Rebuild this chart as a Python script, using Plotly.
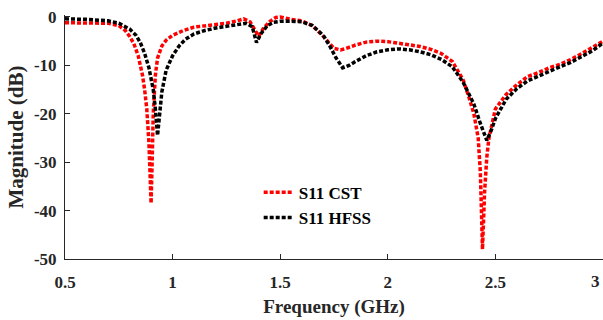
import plotly.graph_objects as go

freq_cst = [0.5, 0.6, 0.7, 0.75, 0.78, 0.8, 0.82, 0.84, 0.86, 0.87, 0.88, 0.89, 0.895, 0.9, 0.905,
            0.91, 0.92, 0.93, 0.95, 0.97, 1.0, 1.05, 1.1, 1.15, 1.2, 1.25, 1.3, 1.33, 1.36, 1.38,
            1.40, 1.42, 1.45, 1.48, 1.5, 1.55, 1.6, 1.65, 1.7, 1.75, 1.78, 1.8, 1.85, 1.9, 1.95,
            2.0, 2.05, 2.1, 2.15, 2.2, 2.25, 2.3, 2.35, 2.38, 2.4, 2.42, 2.43, 2.44, 2.45, 2.46,
            2.47, 2.5, 2.55, 2.6, 2.65, 2.7, 2.75, 2.8, 2.85, 2.9, 2.95, 3.0]
s11_cst = [-1.2, -1.2, -1.3, -1.8, -2.8, -4.0, -5.5, -8, -12, -15, -19, -26, -32, -38.5, -30,
           -20, -12, -8.5, -6, -4.8, -3.8, -2.8, -2.1, -1.8, -1.5, -1.3, -0.8, -0.4, -1.0, -2.5,
           -4.0, -2.5, -1.0, -0.1, 0, -0.5, -0.8, -1.8, -4, -6.5, -6.8, -6.6, -5.8, -5.2, -5,
           -5.1, -5.4, -5.8, -6.1, -6.7, -7.6, -9.2, -13, -17, -20, -25, -32, -48, -36, -29,
           -25, -19, -16, -14, -12.3, -11.5, -10.5, -9.8, -8.8, -7.6, -6.4, -5]

freq_hfss = [0.5, 0.6, 0.7, 0.75, 0.8, 0.83, 0.85, 0.87, 0.89, 0.91, 0.92, 0.93, 0.94, 0.95, 0.97,
             1.0, 1.03, 1.06, 1.1, 1.15, 1.2, 1.25, 1.3, 1.34, 1.37, 1.39, 1.41, 1.44, 1.47, 1.5,
             1.55, 1.6, 1.65, 1.7, 1.73, 1.76, 1.79, 1.82, 1.85, 1.9, 1.95, 2.0, 2.05, 2.1, 2.15,
             2.2, 2.25, 2.3, 2.35, 2.4, 2.43, 2.46, 2.48, 2.5, 2.55, 2.6, 2.65, 2.7, 2.75, 2.8,
             2.85, 2.9, 2.95, 3.0]
s11_hfss = [-0.4, -0.5, -0.8, -1.3, -2.5, -3.8, -5.3, -7.5, -10.5, -15, -19, -24.5, -20, -15.5, -11,
            -8, -6, -4.6, -3.5, -2.8, -2.3, -1.9, -1.5, -1.3, -2.0, -5.3, -3.5, -1.8, -1.1, -0.9,
            -0.9, -1.0, -1.8, -3.8, -6, -8.5, -10.5, -10, -9.2, -8, -7.2, -6.8, -6.6, -6.8, -7.2,
            -7.8, -8.8, -10.3, -13.5, -18, -22, -25.5, -23.5, -21, -17, -14.8, -13.2, -12.2, -11.3, -10.3,
            -9.4, -8.3, -7, -5.4]

x_ticks = [0.5, 1, 1.5, 2, 2.5]
x_tick_labels = ["0.5", "1", "1.5", "2", "2.5"]
x_last_tick = 3
x_last_label = "3"
y_ticks = [0, -10, -20, -30, -40, -50]
y_tick_labels = ["0", "-10", "-20", "-30", "-40", "-50"]

font_family = "Liberation Serif, Times New Roman, serif"
text_color = "#262626"

fig = go.Figure()
fig.add_trace(go.Scatter(x=freq_cst, y=s11_cst, mode="lines", name="S11 CST",
                         line=dict(color="#ff0000", width=3.5, dash="4px,2px")))
fig.add_trace(go.Scatter(x=freq_hfss, y=s11_hfss, mode="lines", name="S11 HFSS",
                         line=dict(color="#000000", width=3.5, dash="4px,2px")))

fig.add_annotation(x=x_last_tick, y=0, xref="x", yref="paper", text=x_last_label,
                   showarrow=False, xanchor="right", yanchor="top", yshift=-11, xshift=-1,
                   font=dict(family=font_family, size=17, color=text_color, weight="bold"))

fig.update_layout(
    width=603, height=320,
    margin=dict(l=65, r=0, t=15, b=61),
    paper_bgcolor="white", plot_bgcolor="white",
    font=dict(family=font_family, color=text_color, size=17, weight="bold"),
    showlegend=True,
    legend=dict(x=0.36, y=0.345, xanchor="left", yanchor="top",
                font=dict(family=font_family, size=17, color="#000", weight="bold"),
                bgcolor="rgba(0,0,0,0)", tracegroupgap=0, itemwidth=30),
    xaxis=dict(range=[0.5, 3], tickvals=x_ticks + [x_last_tick],
               ticktext=x_tick_labels + [""],
               ticks="inside", ticklen=5, tickcolor=text_color, ticklabelstandoff=8,
               showline=True, linecolor=text_color, linewidth=1, showgrid=False, zeroline=False,
               tickfont=dict(family=font_family, size=17, weight="bold"),
               title=dict(text="Frequency (GHz)", standoff=8,
                          font=dict(family=font_family, size=19, weight="bold"))),
    yaxis=dict(range=[-50, 0.4], tickvals=y_ticks, ticktext=y_tick_labels,
               ticks="inside", ticklen=5, tickcolor=text_color, ticklabelstandoff=4,
               showline=True, linecolor=text_color, linewidth=1, showgrid=False, zeroline=False,
               tickfont=dict(family=font_family, size=17, weight="bold"),
               title=dict(text="Magnitude (dB)", standoff=4,
                          font=dict(family=font_family, size=21, weight="bold"))),
)

fig.write_html("out.html")
